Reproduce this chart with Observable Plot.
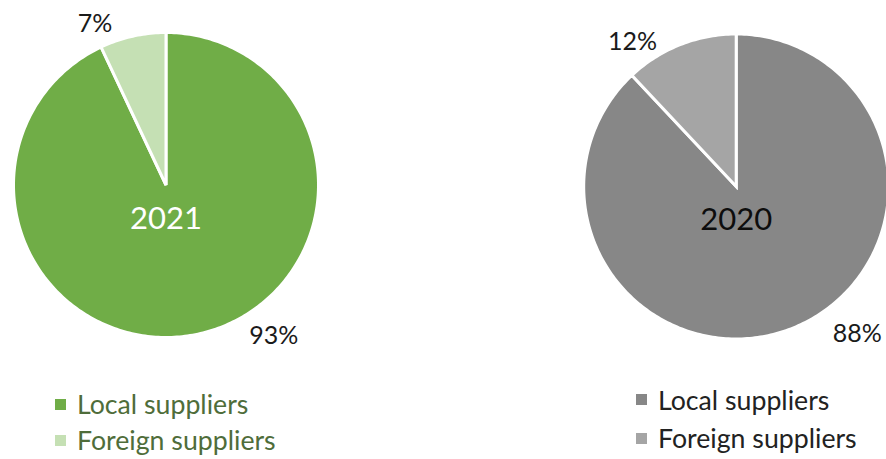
<!DOCTYPE html>
<html><head><meta charset="utf-8">
<script src="https://cdn.jsdelivr.net/npm/d3@7"></script>
<script src="https://cdn.jsdelivr.net/npm/@observablehq/plot@0.6"></script>
<style>
html,body{margin:0;padding:0;background:#fff;}
#chart{position:relative;width:886px;height:459px;font-family:Lato,"Open Sans",sans-serif;}
#chart svg{display:block;}
#legend{position:relative;width:886px;height:73px;}
.row{position:absolute;display:flex;align-items:center;height:36px;white-space:nowrap;font-size:26.7px;}
.sw{width:11px;height:11px;margin-right:11px;flex:none;}
</style></head><body><div id="chart"></div>
<script>
// ---- data ----
const years = ["2021", "2020"];
const categories = ["Local suppliers", "Foreign suppliers"];
const shares2021 = [93, 7];
const shares2020 = [88, 12];
const labels2021 = ["93%", "7%"];
const labels2020 = ["88%", "12%"];

// ---- styles / layout ----
const palette = {"2021": ["#70AD47", "#C5E0B4"], "2020": ["#878787", "#A5A5A5"]};
const yearColor = {"2021": "#ffffff", "2020": "#0d0d0d"};
const legendText = {"2021": "#4f6d3a", "2020": "#222222"};
const W = 886, H = 386, R = 151;
const centersPx = {"2021": [165.5, 184.5], "2020": [735.7, 186]};
const labelLayout = { // angle (deg clockwise from top), distance (radius units)
  "2021": [[144.5, 1.228], [-23.8, 1.166]],
  "2020": [[140.7, 1.265], [-35.6, 1.18]]
};
const legendLayout = {"2021": {left: 55, rows: [18, 54]}, "2020": {left: 636, rows: [13.5, 52]}};

const byYear = {
  "2021": {shares: shares2021, labels: labels2021},
  "2020": {shares: shares2020, labels: labels2020}
};
const [c0x, c0y] = centersPx["2021"];
const offset = y => [(centersPx[y][0] - c0x) / R, -(centersPx[y][1] - c0y) / R];

const pie = d3.pie().sort(null).startAngle(0).endAngle(2 * Math.PI);
const rDraw = 1 + 1.5 / R;
const slicePts = [], pctLabels = [], yearLabels = [];
for (const y of years) {
  const [ox, oy] = offset(y);
  const arcs = pie(byYear[y].shares);
  arcs.forEach((a, i) => {
    const key = y + "-" + i;
    const color = palette[y][i];
    slicePts.push({key, color, x: ox, y: oy});
    const n = Math.max(2, Math.ceil((a.endAngle - a.startAngle) / (2 * Math.PI) * 360));
    for (let k = 0; k <= n; k++) {
      const t = a.startAngle + (a.endAngle - a.startAngle) * k / n;
      slicePts.push({key, color, x: ox + rDraw * Math.sin(t), y: oy + rDraw * Math.cos(t)});
    }
    const [ang, dist] = labelLayout[y][i];
    const th = ang * Math.PI / 180;
    pctLabels.push({text: byYear[y].labels[i], x: ox + dist * Math.sin(th), y: oy + dist * Math.cos(th)});
  });
  yearLabels.push({text: y, x: ox, y: oy - 0.225, fill: yearColor[y]});
}

const plot = Plot.plot({
  width: W, height: H, margin: 0,
  style: {fontFamily: "Lato, 'Open Sans', sans-serif", background: "#fff"},
  x: {domain: [-c0x / R, (W - c0x) / R], range: [0, W], axis: null},
  y: {domain: [-(H - c0y) / R, c0y / R], range: [H, 0], axis: null},
  color: {type: "identity"},
  marks: [
    Plot.line(slicePts, {x: "x", y: "y", z: "key", fill: "color", stroke: "#fff", strokeWidth: 3, curve: "linear-closed", strokeLinejoin: "miter", strokeMiterlimit: 4}),
    Plot.text(pctLabels, {x: "x", y: "y", text: "text", fill: "#1a1a1a", fontSize: 25}),
    Plot.text(yearLabels, {x: "x", y: "y", text: "text", fill: "fill", fontSize: 31})
  ]
});
const chart = document.getElementById("chart");
chart.appendChild(plot);

const legend = document.createElement("div");
legend.id = "legend";
for (const y of years) {
  const L = legendLayout[y];
  categories.forEach((c, i) => {
    const row = document.createElement("div");
    row.className = "row";
    row.style.left = L.left + "px";
    row.style.top = (L.rows[i] - 18) + "px";
    row.style.color = legendText[y];
    const sw = document.createElement("span");
    sw.className = "sw";
    sw.style.background = palette[y][i];
    const tx = document.createElement("span");
    tx.textContent = c;
    row.appendChild(sw); row.appendChild(tx);
    legend.appendChild(row);
  });
}
chart.appendChild(legend);
</script></body></html>
